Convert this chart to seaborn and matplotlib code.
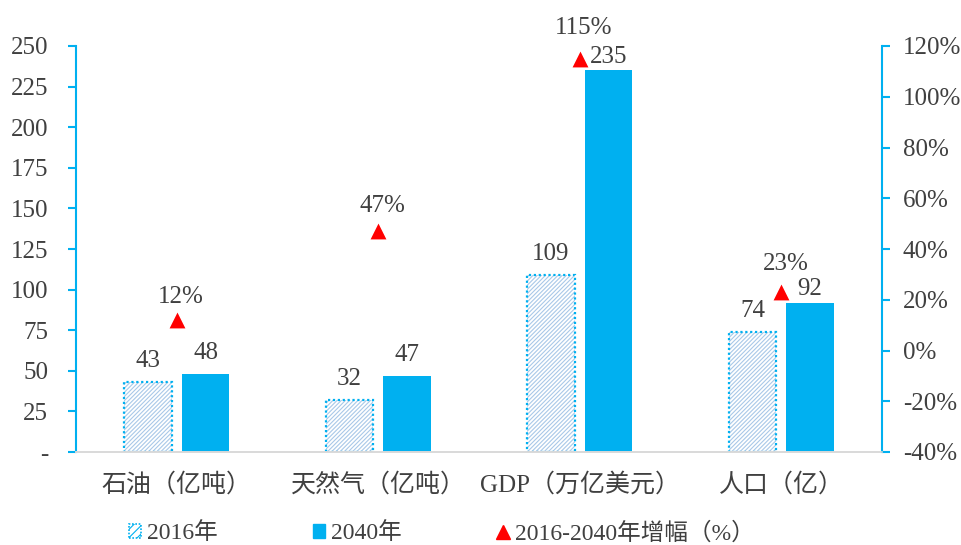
import numpy as np
import pandas as pd
import matplotlib
matplotlib.use("Agg")
import matplotlib.pyplot as plt
import matplotlib.ticker as mticker
from matplotlib.patches import Rectangle, Patch
from matplotlib.lines import Line2D
import seaborn as sns

# chart data
categories = ["石油（亿吨）", "天然气（亿吨）", "GDP（万亿美元）", "人口（亿）"]
years = ["2016年", "2040年"]
values_2016 = [43, 32, 109, 74]
values_2040 = [48, 47, 235, 92]
growth = [0.12, 0.47, 1.15, 0.23]
left_ticks = [0, 25, 50, 75, 100, 125, 150, 175, 200, 225, 250]
right_ticks = [-0.4, -0.2, 0, 0.2, 0.4, 0.6, 0.8, 1.0, 1.2]

# label offsets in points (labels were nudged in the original to avoid clashes)
off_2016 = [7, 7, 7, 7]
off_2040 = [7, 7, 1.5, 2]
off_growth = [9, 10.5, 14.5, 12.5]

blue = "#00B0F0"
hatch_blue = "#A9C8E8"
text_col = "#404040"
grey = "#D9D9D9"
fs = 18

sns.set_style("white")
plt.rcParams["font.family"] = ["Liberation Serif", "Noto Sans CJK SC"]
plt.rcParams["hatch.linewidth"] = 0.8

df = pd.DataFrame({
    "category": categories * 2,
    "year": [years[0]] * 4 + [years[1]] * 4,
    "value": values_2016 + values_2040,
})

fig = plt.figure(figsize=(9.61, 5.45), dpi=100)
ax = fig.add_axes([76 / 961, 1 - 452 / 545, 806 / 961, 406 / 545])

sns.barplot(data=df, x="category", y="value", hue="year", hue_order=years,
            palette={years[0]: hatch_blue, years[1]: blue}, width=0.572,
            gap=0.17, legend=False, ax=ax, saturation=1)

# style 2016 bars: hatched fill + dotted outline
n = len(categories)
for p in ax.patches[:n]:
    p.set_facecolor("white")
    p.set_edgecolor(hatch_blue)
    p.set_hatch("////////")
    p.set_linewidth(0)
    ax.add_patch(Rectangle((p.get_x(), p.get_y()), p.get_width(), p.get_height(),
                           facecolor="none", edgecolor=blue, linewidth=1.6,
                           linestyle=(0, (1, 1.2)), zorder=p.get_zorder() + 0.1))
for p in ax.patches[n:2 * n]:
    p.set_linewidth(0)

# data labels
for vals, offs, patches in ((values_2016, off_2016, ax.patches[:n]),
                            (values_2040, off_2040, ax.patches[n:2 * n])):
    for v, o, p in zip(vals, offs, patches):
        ax.annotate(str(v), (p.get_x() + p.get_width() / 2, v), xytext=(0, o),
                    textcoords="offset points", ha="center", va="bottom",
                    fontsize=fs, color=text_col)

ax.set_ylim(0, 250)
ax.set_xlim(-0.5, n - 0.5)
ax.set_yticks(left_ticks)
ax.set_yticklabels(["-"] + [str(t) for t in left_ticks[1:]])
ax.set_xlabel("")
ax.set_ylabel("")

# growth on secondary axis
ax2 = ax.twinx()
sns.scatterplot(x=np.arange(n), y=growth, marker="^", color="red", s=130,
                linewidth=0, ax=ax2, zorder=5)
for i, (g, o) in enumerate(zip(growth, off_growth)):
    ax2.annotate(f"{round(g * 100)}%", (i, g), xytext=(3, o),
                 textcoords="offset points", ha="center", va="bottom",
                 fontsize=fs, color=text_col, annotation_clip=False)
ax2.set_ylim(-0.4, 1.2)
ax2.set_yticks(right_ticks)
ax2.yaxis.set_major_formatter(mticker.FuncFormatter(lambda v, _: f"{round(v * 100)}%"))

for a in (ax, ax2):
    a.spines["top"].set_visible(False)
    a.spines["bottom"].set_color(grey)
    a.spines["bottom"].set_linewidth(1.2)
ax.spines["right"].set_visible(False)
ax2.spines["left"].set_visible(False)
ax.spines["left"].set_color(blue)
ax.spines["left"].set_linewidth(1.5)
ax2.spines["right"].set_color(blue)
ax2.spines["right"].set_linewidth(1.5)

ax.tick_params(axis="y", direction="out", length=6, width=1.5, color=blue,
               labelsize=fs, labelcolor=text_col, pad=14, left=True)
ax.tick_params(axis="x", length=0, labelsize=fs, labelcolor=text_col, pad=15)
ax2.tick_params(axis="y", direction="out", length=6, width=1.5, color=blue,
                labelsize=fs, labelcolor=text_col, pad=9, right=True)

# legend
handles = [
    Patch(facecolor="white", edgecolor=blue, hatch="////", linestyle=(0, (1, 1)), linewidth=1.2),
    Patch(facecolor=blue, edgecolor=blue),
    Line2D([], [], marker="^", color="red", linestyle="none", markersize=10),
]
labels = ["2016年", "2040年", "2016-2040年增幅（%）"]
fig.legend(handles, labels, loc="center", bbox_to_anchor=(442 / 961, 1 - 533 / 545),
           ncol=3, frameon=False, fontsize=17, labelcolor=text_col,
           handlelength=0.5, handleheight=0.5, handletextpad=0.25, columnspacing=4.05)

fig.savefig("out.png", dpi=100)
